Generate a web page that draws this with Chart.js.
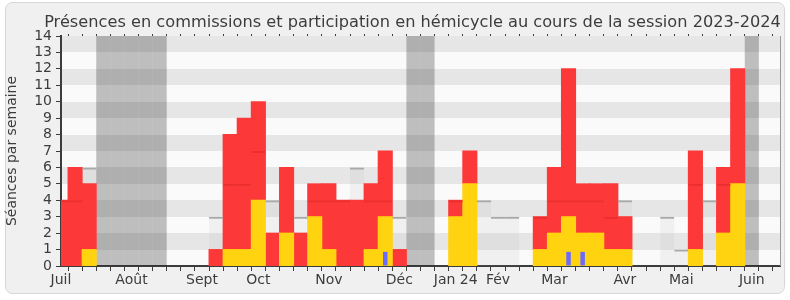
<!DOCTYPE html>
<html>
<head>
<meta charset="utf-8">
<script src="https://cdn.jsdelivr.net/npm/chart.js@4/dist/chart.umd.min.js"></script>
<style>
  html, body { margin: 0; padding: 0; background: #fff; }
  canvas { display: block; }
</style>
</head>
<body>
<canvas id="chart" width="790" height="300"></canvas>
<script>
const titre = 'Présences en commissions et participation en hémicycle au cours de la session 2023-2024';

// semaines, de juillet 2023 à juin 2024 (52 semaines)
const nbSemaines = 52;
const moisNoms = ['Juil', 'Août', 'Sept', 'Oct', 'Nov', 'Déc', 'Jan 24', 'Fév', 'Mar', 'Avr', 'Mai', 'Juin'];
const moisSemaines = [0, 5, 10, 14, 19, 24, 28, 31, 35, 40, 44, 49];

// séances par semaine
const hemicycle  = [0,0,1,0,0,0,0,0,0,0, 0,0,1,1,4,0,2,0,3,1, 0,0,1,3,0,0,0,0,3,5, 0,0,0,0,1,2,3,2,2,1, 1,0,0,0,0,1,0,2,5,0, 0,0];
const commission = [4,6,4,0,0,0,0,0,0,0, 0,1,7,8,6,2,4,2,2,4, 4,4,4,4,1,0,0,0,1,2, 0,0,0,0,2,4,9,3,3,4, 2,0,0,0,0,6,0,4,7,0, 0,0];
const mediane    = [4,4,6,0,0,0,0,0,0,0, 0,3,5,5,7,4,0,3,4,4, 4,6,4,4,3,0,0,0,4,0, 4,3,3,0,3,4,4,4,4,3, 4,0,0,3,1,5,4,5,5,0, 0,0];
const questions  = [0,0,0,0,0,0,0,0,0,0, 0,0,0,0,0,0,0,0,0,0, 0,0,0,0.86,0,0,0,0,0,0, 0,0,0,0,0,0,0.86,0.86,0,0, 0,0,0,0,0,0,0,0,0,0, 0,0];
const vacances   = [3, 4, 5, 6, 7, 25, 26, 49];
const yMax = 14;

const labels = [];
for (let i = 0; i < nbSemaines; i++) {
    const m = moisSemaines.indexOf(i);
    labels.push(m >= 0 ? moisNoms[m] : '');
}
const vide = v => v ? v : null;
const vacData = labels.map((l, i) => vacances.includes(i) ? yMax : null);

const police = 'DejaVu Sans';
const gris = '#3c3c3c';

// couleur du trait de la médiane : gris sur le fond, rouge un peu foncé dans la barre rouge
const couleurMediane = ctx => {
    const i = ctx.dataIndex;
    if (mediane[i] > hemicycle[i] + commission[i]) return '#a9a9a9';
    if (mediane[i] > hemicycle[i]) return '#ec2e2e';
    return 'rgba(0,0,0,0)';
};

const fond = {
    id: 'fond',
    beforeDraw(chart) {
        const c = chart.ctx, a = chart.chartArea, y = chart.scales.y;
        c.save();
        c.fillStyle = '#f0f0f0';
        c.strokeStyle = '#d6d6d6';
        c.lineWidth = 1;
        c.beginPath();
        c.roundRect(5.5, 2.5, 779, 291, 7);
        c.fill();
        c.stroke();
        for (let i = 0; i < yMax; i++) {
            const top = Math.round(y.getPixelForValue(i + 1));
            const bot = Math.round(y.getPixelForValue(i));
            c.fillStyle = i % 2 ? '#e6e6e6' : '#fafafa';
            c.fillRect(a.left, top, a.right - a.left, bot - top);
        }
        c.fillStyle = gris;
        c.font = '16.2px "' + police + '"';
        c.textAlign = 'center';
        c.textBaseline = 'alphabetic';
        c.fillText(titre, 412.5, 27);
        c.restore();
    },
    afterDraw(chart) {
        const c = chart.ctx, a = chart.chartArea;
        c.save();
        c.strokeStyle = '#9a9a9a';
        c.lineWidth = 1;
        c.beginPath();
        c.moveTo(Math.round(a.right) + 0.5, a.top);
        c.lineTo(Math.round(a.right) + 0.5, a.bottom);
        c.stroke();
        c.restore();
    }
};

new Chart(document.getElementById('chart'), {
    type: 'bar',
    data: {
        labels: labels,
        datasets: [
            {
                label: 'Médiane (trait)',
                data: mediane.map(vide),
                backgroundColor: 'rgba(0,0,0,0)',
                borderColor: couleurMediane,
                borderWidth: { top: 2, left: 0, right: 0, bottom: 0 },
                borderSkipped: false,
                stack: 'mt',
                order: 0
            },
            {
                label: 'Questions orales',
                data: questions.map(vide),
                backgroundColor: '#6a6aff',
                stack: 'q',
                order: 1,
                barPercentage: 0.32,
                categoryPercentage: 1
            },
            {
                label: 'Participations en hémicycle',
                data: hemicycle.map(vide),
                backgroundColor: '#ffd30f',
                stack: 'a',
                order: 2,
                inflateAmount: 0.5
            },
            {
                label: 'Présences en commission',
                data: commission.map(vide),
                backgroundColor: '#fc3838',
                stack: 'a',
                order: 3,
                inflateAmount: 0.5
            },
            {
                label: 'Vacances parlementaires',
                data: vacData,
                backgroundColor: 'rgba(0,0,0,0.24)',
                stack: 'v',
                order: 4
            },
            {
                label: 'Médiane des députés',
                data: mediane.map(vide),
                backgroundColor: 'rgba(190,190,190,0.15)',
                stack: 'm',
                order: 5
            }
        ]
    },
    options: {
        responsive: false,
        animation: false,
        events: [],
        layout: { padding: { left: 0, right: 10, top: 0, bottom: 0 } },
        datasets: {
            bar: {
                grouped: false,
                barPercentage: 1,
                categoryPercentage: 1,
                inflateAmount: 0,
                clip: 0
            }
        },
        plugins: {
            legend: { display: false },
            tooltip: { enabled: false },
            title: { display: false }
        },
        scales: {
            x: {
                position: 'bottom',
                offset: false,
                stacked: true,
                afterFit: s => { s.height = 34; },
                grid: { drawOnChartArea: false, tickLength: 5, color: gris, lineWidth: 1 },
                border: { display: true, color: gris, width: 2 },
                ticks: {
                    autoSkip: false, maxRotation: 0, minRotation: 0,
                    color: gris, padding: 1,
                    font: { family: police, size: 14 }
                }
            },
            x2: {
                type: 'category',
                position: 'top',
                offset: false,
                afterFit: s => { s.height = 36; },
                grid: { drawOnChartArea: false, tickLength: 2, color: gris, lineWidth: 1 },
                border: { display: false },
                ticks: { autoSkip: false, maxRotation: 0, callback: () => '' }
            },
            y: {
                min: 0,
                max: yMax,
                stacked: true,
                afterFit: s => { s.width = 61; },
                grid: { drawOnChartArea: false, tickLength: 5, color: gris, lineWidth: 1 },
                border: { display: true, color: gris, width: 2 },
                ticks: {
                    stepSize: 1, autoSkip: false, color: gris, padding: 4,
                    font: { family: police, size: 14 }
                },
                title: {
                    display: true,
                    text: 'Séances par semaine',
                    color: gris,
                    font: { family: police, size: 14 },
                    padding: { top: 4, bottom: 0 }
                }
            }
        }
    },
    plugins: [fond]
});
</script>
</body>
</html>
